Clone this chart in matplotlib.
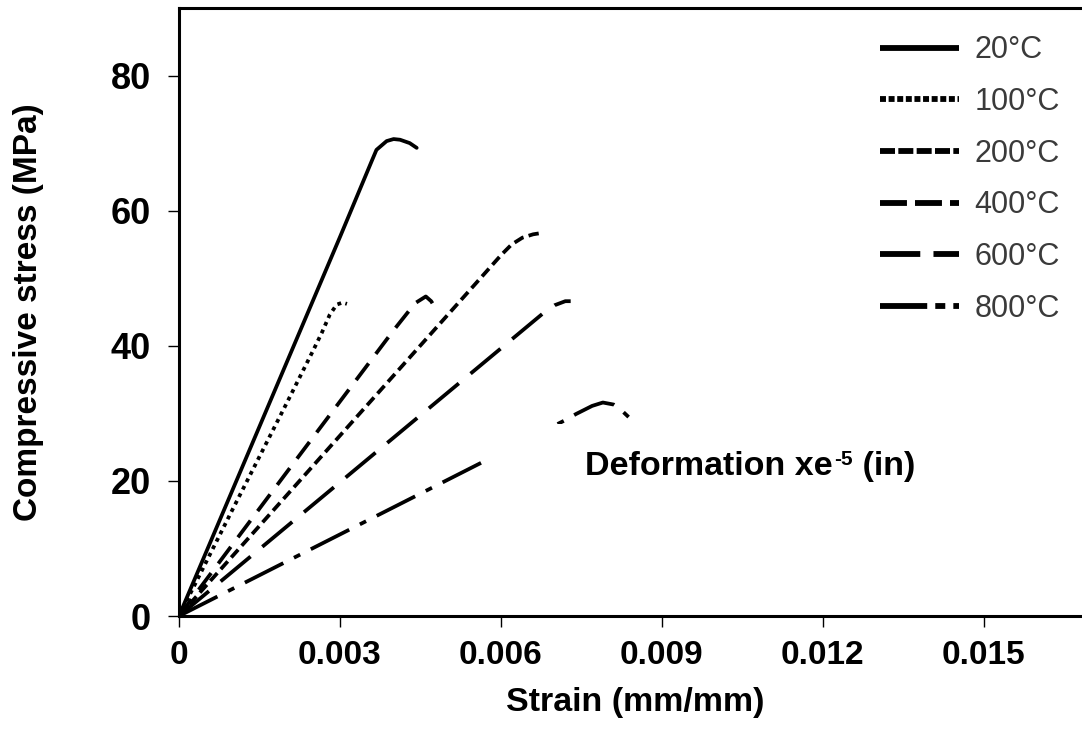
import matplotlib
matplotlib.use('Agg')
import matplotlib.pyplot as plt
from matplotlib.patches import Rectangle

plt.rcParams['font.family'] = ['Liberation Sans', 'DejaVu Sans']
plt.rcParams['lines.scale_dashes'] = False

# stress-strain curves
labels = ['20°C', '100°C', '200°C', '400°C', '600°C', '800°C']

strain_20 = [0, 0.0010, 0.0020, 0.0030, 0.0036, 0.00368, 0.00387, 0.0040, 0.00412, 0.0043, 0.00443]
stress_20 = [0, 18.7, 37.4, 56.1, 67.5, 69.0, 70.3, 70.6, 70.5, 70.0, 69.3]

strain_100 = [0, 0.0010, 0.0020, 0.0025, 0.00266, 0.00281, 0.00294, 0.00305, 0.00313]
stress_100 = [0, 15.8, 31.4, 39.3, 41.9, 44.6, 46.1, 46.4, 46.2]

strain_200 = [0, 0.0030, 0.0060, 0.0062, 0.0064, 0.0066, 0.00676]
stress_200 = [0, 26.7, 53.4, 55.0, 56.0, 56.5, 56.7]

strain_400 = [0, 0.0020, 0.0040, 0.0042, 0.0044, 0.0046, 0.0047, 0.00483]
stress_400 = [0, 21.2, 42.3, 44.3, 46.3, 47.3, 46.6, 44.9]

strain_600 = [0, 0.0030, 0.0068, 0.0070, 0.0072, 0.0073]
stress_600 = [0, 19.8, 44.9, 46.0, 46.6, 46.6]

strain_800 = [0, 0.0040, 0.0072, 0.0074, 0.0077, 0.0079, 0.0081, 0.0082, 0.0084]
stress_800 = [0, 16.1, 29.0, 29.9, 31.1, 31.6, 31.3, 30.8, 29.3]

x_ticks = [0, 0.003, 0.006, 0.009, 0.012, 0.015]
x_ticklabels = ['0', '0.003', '0.006', '0.009', '0.012', '0.015']
y_ticks = [0, 20, 40, 60, 80]

curves = [(strain_20, stress_20), (strain_100, stress_100), (strain_200, stress_200),
          (strain_400, stress_400), (strain_600, stress_600), (strain_800, stress_800)]

# dash patterns in points (plot lines, legend lines)
plot_styles = [None, (0, (2.8, 3.2)), (0, (7.5, 3.8)), (0, (15, 8.6)),
               (0, (28, 11)), (0, (31, 8.6, 5, 8.6))]
legend_styles = [None, (0, (4.3, 1.9)), (0, (10.8, 2.4)), (0, (19.4, 5.8)),
                 (0, (29, 9.5)), (0, (34, 5.8, 7.2, 5.8))]

W, H = 1082, 730
fig = plt.figure(figsize=(W / 100, H / 100), dpi=100)
ax = fig.add_axes([179 / W, 1 - 616 / H, (W - 179) / W, (616 - 8) / H])

for (xs, ys), lab, st in zip(curves, labels, plot_styles):
    ls = '-' if st is None else st
    ax.plot(xs, ys, color='black', lw=2.7, linestyle=ls, label=lab,
            dash_capstyle='butt', solid_capstyle='round')

# white box behind the annotation that hides part of the 800°C curve
ax.add_patch(Rectangle((0.00576, 15), 0.0082, 13.4, facecolor='white',
                       edgecolor='none', zorder=3))
t1 = ax.text(0.00757, 20.9, 'Deformation xe', fontsize=24.5,
             fontweight='bold', va='baseline', ha='left', zorder=4)
t2 = ax.annotate('-5', xy=(1, 1), xycoords=t1, xytext=(0.8, 0.5),
                 textcoords='offset points', fontsize=15, fontweight='bold',
                 va='top', ha='left', zorder=4)
ax.annotate(' (in)', xy=(1, 0), xycoords=(t2, t1), fontsize=24.5,
            fontweight='bold', va='bottom', ha='left', zorder=4)

ax.set_xlim(0, 0.01683)
ax.set_ylim(0, 90)
ax.set_xticks(x_ticks)
ax.set_xticklabels(x_ticklabels)
ax.set_yticks(y_ticks)
ax.tick_params(axis='both', direction='out', length=8, width=1)
ax.tick_params(axis='x', pad=9, labelsize=24)
ax.tick_params(axis='y', pad=12, labelsize=26)
for t in ax.get_xticklabels() + ax.get_yticklabels():
    t.set_fontweight('bold')

for side in ['left', 'bottom', 'top']:
    ax.spines[side].set_linewidth(2.2)
ax.spines['right'].set_visible(False)

ax.set_xlabel('Strain (mm/mm)', fontsize=24.5, fontweight='bold')
ax.set_ylabel('Compressive stress (MPa)', fontsize=24, fontweight='bold')
ax.xaxis.set_label_coords(0.505, -0.117)
ax.yaxis.set_label_coords(-0.149, 0.5)

leg = ax.legend(loc='upper left', bbox_to_anchor=(0.776, 0.955), frameon=False,
                fontsize=22, handlelength=2.6, handletextpad=0.5,
                labelspacing=0.71, borderpad=0, borderaxespad=0)
for line, st in zip(leg.get_lines(), legend_styles):
    line.set_linewidth(4.2)
    if st is not None:
        line.set_linestyle(st)
        line.set_dash_capstyle('butt')
    else:
        line.set_solid_capstyle('butt')
for t in leg.get_texts():
    t.set_color('#3a3a3a')

fig.savefig('out.png', dpi=100)
